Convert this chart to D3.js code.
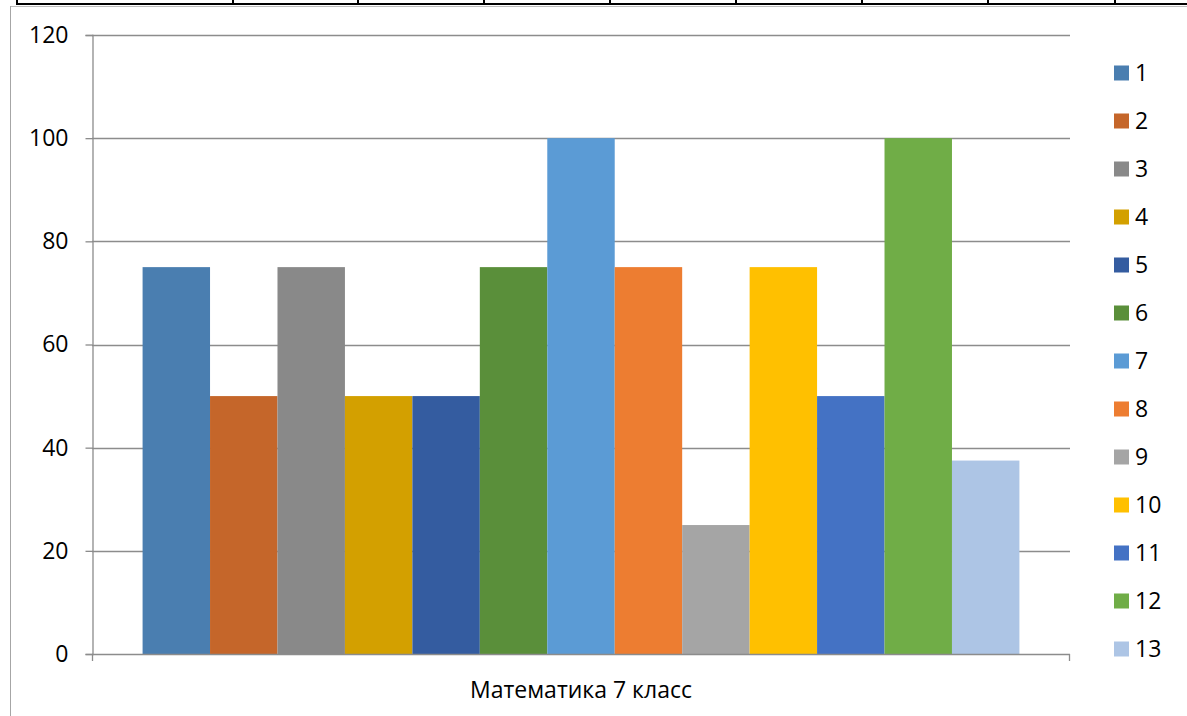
<!DOCTYPE html>
<html><head><meta charset="utf-8">
<script src="https://cdn.jsdelivr.net/npm/d3@7"></script>
<style>body{margin:0;background:#fff}svg{display:block}</style>
</head><body>
<script>
const categories = ["Математика 7 класс"];
const seriesNames = ["1","2","3","4","5","6","7","8","9","10","11","12","13"];
const seriesValues = [75,50,75,50,50,75,100,75,25,75,50,100,37.5];
const seriesColors = ["#4A7EB0","#C5662A","#898989","#D3A000","#345CA0","#5A8F3A","#5B9BD5","#ED7D31","#A5A5A5","#FFC000","#4472C4","#70AD47","#ADC5E5"];
const yTicks = [0,20,40,60,80,100,120];
const tableCols = [17,233,358,484,610,736,862,988,1115];

const W=1187,H=716;
const svg=d3.select("body").append("svg").attr("width",W).attr("height",H);
const font="'Open Sans', 'Noto Sans', sans-serif";
const fs=23;

// table fragment at top
svg.append("line").attr("x1",10).attr("x2",W).attr("y1",6.5).attr("y2",6.5).attr("stroke","#bdbdbd");
svg.append("line").attr("x1",10.5).attr("x2",10.5).attr("y1",6).attr("y2",H).attr("stroke","#a6a6a6");
svg.append("line").attr("x1",17).attr("x2",W).attr("y1",4).attr("y2",4).attr("stroke","#000").attr("stroke-width",2);
svg.selectAll(".tc").data(tableCols).enter().append("line")
  .attr("x1",d=>d).attr("x2",d=>d).attr("y1",0).attr("y2",5).attr("stroke","#000").attr("stroke-width",2);

const x0=d3.scaleBand().domain(categories).range([92,1070]).paddingInner(0).paddingOuter(0);
const y=d3.scaleLinear().domain([0,120]).range([654,35]);
// 13 bars + gap of 1.5 bar widths (0.75 each side)
const xs=d3.scaleBand().domain(seriesNames).range([0,x0.bandwidth()]).paddingInner(0).paddingOuter(0.75);

// gridlines
svg.append("g").selectAll("line").data(yTicks.filter(d=>d>0)).enter().append("line")
  .attr("x1",92).attr("x2",1070).attr("y1",d=>Math.round(y(d))+0.5).attr("y2",d=>Math.round(y(d))+0.5)
  .attr("stroke","#8c8c8c").attr("stroke-width",1.3);

// bars
const g=svg.append("g").attr("transform",`translate(${x0(categories[0])},0)`);
g.selectAll("rect").data(seriesValues).enter().append("rect")
  .attr("x",(d,i)=>xs(seriesNames[i])).attr("width",xs.bandwidth())
  .attr("y",d=>y(d)).attr("height",d=>y(0)-y(d)).attr("fill",(d,i)=>seriesColors[i]);

// y axis
const yAx=svg.append("g").attr("transform","translate(92.5,0)")
  .call(d3.axisLeft(y).tickValues(yTicks).tickSize(7).tickPadding(17));
yAx.select(".domain").attr("stroke","#8c8c8c").attr("stroke-width",1.3);
yAx.selectAll(".tick line").attr("stroke","#8c8c8c").attr("stroke-width",1.3);
yAx.selectAll("text").attr("font-family",font).attr("font-size",fs).attr("fill","#000");

// x axis
svg.append("line").attr("x1",92).attr("x2",1070).attr("y1",654.5).attr("y2",654.5).attr("stroke","#8c8c8c").attr("stroke-width",1.3);
[92.5,1069.5].forEach(xx=>svg.append("line").attr("x1",xx).attr("x2",xx).attr("y1",654).attr("y2",661).attr("stroke","#8c8c8c").attr("stroke-width",1.3));
svg.append("text").attr("x",x0(categories[0])+x0.bandwidth()/2).attr("y",698)
  .attr("text-anchor","middle").attr("font-family",font).attr("font-size",fs).attr("fill","#000").text(categories[0]);

// legend
const lg=svg.append("g").selectAll("g").data(seriesNames).enter().append("g")
  .attr("transform",(d,i)=>`translate(1114,${73+i*48})`);
lg.append("rect").attr("x",0).attr("y",-7.5).attr("width",15).attr("height",15).attr("fill",(d,i)=>seriesColors[i]);
lg.append("text").attr("x",21).attr("y",0).attr("dy","0.36em").attr("font-family",font).attr("font-size",fs).attr("fill","#000").text(d=>d);
</script>
</body></html>
